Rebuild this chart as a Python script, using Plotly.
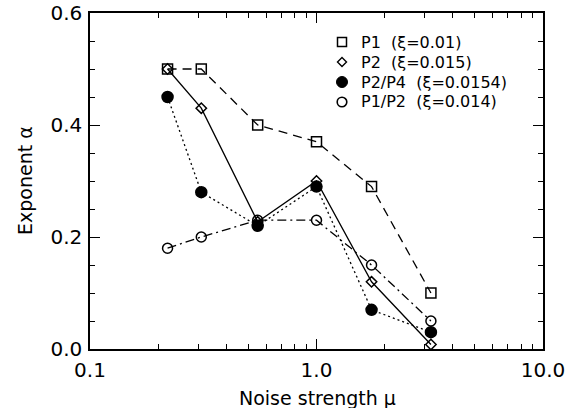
import plotly.graph_objects as go

mu = [0.22, 0.31, 0.55, 1.0, 1.75, 3.2]
p1 = [0.50, 0.50, 0.40, 0.37, 0.29, 0.10]
p2 = [0.50, 0.43, 0.227, 0.30, 0.12, 0.008]
p2p4 = [0.45, 0.28, 0.22, 0.29, 0.07, 0.03]
p1p2 = [0.18, 0.20, 0.23, 0.23, 0.15, 0.05]

names = ["P1  (ξ=0.01)", "P2  (ξ=0.015)", "P2/P4  (ξ=0.0154)", "P1/P2  (ξ=0.014)"]
series = [p1, p2, p2p4, p1p2]
dashes = ["9px,6px", "solid", "2px,3px", "9px,4px,2px,4px"]
symbols = ["square-open", "diamond-open", "circle", "circle-open"]
sizes = [10, 8, 11, 10]

FONT = "DejaVu Sans, Arial, sans-serif"
W, H = 577, 408
L, R, T, B = 90, 34, 13, 59
PW, PH = W - L - R, H - T - B


def px(xp):
    return (xp - L) / PW


def py(yp):
    return (H - B - yp) / PH


fig = go.Figure()
for ys, d, s, sz in zip(series, dashes, symbols, sizes):
    fig.add_trace(go.Scatter(
        x=mu, y=ys, mode="lines+markers", showlegend=False,
        line=dict(color="black", width=1.3, dash=d),
        marker=dict(symbol=s, size=sz, color="black", line=dict(color="black", width=1.5)),
    ))

# custom legend (markers only, tight rows)
shapes = []
annotations = []
mx, tx = 342, 359
for i, (n, s) in enumerate(zip(names, symbols)):
    cy = 42 + 20 * i
    if s == "square-open":
        r = 4.5
        shapes.append(dict(type="rect", xref="paper", yref="paper",
                           x0=px(mx - r), x1=px(mx + r), y0=py(cy + r), y1=py(cy - r),
                           line=dict(color="black", width=1.5)))
    elif s == "diamond-open":
        r = 4.5
        path = (f"M {px(mx)} {py(cy - r)} L {px(mx + r)} {py(cy)} "
                f"L {px(mx)} {py(cy + r)} L {px(mx - r)} {py(cy)} Z")
        shapes.append(dict(type="path", xref="paper", yref="paper", path=path,
                           line=dict(color="black", width=1.4)))
    elif s == "circle":
        r = 5.5
        shapes.append(dict(type="circle", xref="paper", yref="paper",
                           x0=px(mx - r), x1=px(mx + r), y0=py(cy + r), y1=py(cy - r),
                           fillcolor="black", line=dict(color="black", width=1)))
    else:
        r = 4.8
        shapes.append(dict(type="circle", xref="paper", yref="paper",
                           x0=px(mx - r), x1=px(mx + r), y0=py(cy + r), y1=py(cy - r),
                           line=dict(color="black", width=1.6)))
    annotations.append(dict(text=n, xref="paper", yref="paper", x=px(tx), y=py(cy),
                            xanchor="left", yanchor="middle", showarrow=False,
                            font=dict(size=16, family=FONT, color="black")))

# axis titles
annotations.append(dict(text="Noise strength μ", xref="paper", yref="paper",
                        x=px(317), y=py(385), xanchor="center", yanchor="top",
                        showarrow=False, font=dict(size=19, family=FONT, color="black")))
annotations.append(dict(text="Exponent α", xref="paper", yref="paper",
                        x=px(25), y=py(181), xanchor="center", yanchor="middle",
                        textangle=-90, showarrow=False,
                        font=dict(size=19, family=FONT, color="black")))

minor_x = [0.2, 0.3, 0.4, 0.5, 0.6, 0.7, 0.8, 0.9, 2, 3, 4, 5, 6, 7, 8, 9]
fig.update_layout(
    width=W, height=H,
    margin=dict(l=L, r=R, t=T, b=B),
    paper_bgcolor="white", plot_bgcolor="white",
    font=dict(family=FONT, size=17, color="black"),
    showlegend=False,
    shapes=shapes,
    annotations=annotations,
    xaxis=dict(
        type="log", range=[-1, 1], automargin=False,
        tickvals=[0.1, 1, 10], ticktext=["0.1", "1.0", "10.0"],
        ticks="inside", ticklen=10, tickwidth=1.2, tickcolor="black",
        showline=True, linecolor="black", linewidth=1.5, mirror="allticks",
        showgrid=False, zeroline=False,
        minor=dict(tickvals=minor_x, ticks="inside", ticklen=5, tickcolor="black", showgrid=False),
        tickfont=dict(size=20),
        ticklabelstandoff=2,
    ),
    yaxis=dict(
        range=[0, 0.6], automargin=False,
        tickvals=[0, 0.2, 0.4, 0.6], ticktext=["0.0", "0.2", "0.4", "0.6"],
        ticks="inside", ticklen=10, tickwidth=1.2, tickcolor="black",
        showline=True, linecolor="black", linewidth=1.5, mirror="allticks",
        showgrid=False, zeroline=False,
        minor=dict(dtick=0.05, ticks="inside", ticklen=5, tickcolor="black", showgrid=False),
        tickfont=dict(size=20),
        ticklabelstandoff=2,
    ),
)
fig.write_html("out.html")
